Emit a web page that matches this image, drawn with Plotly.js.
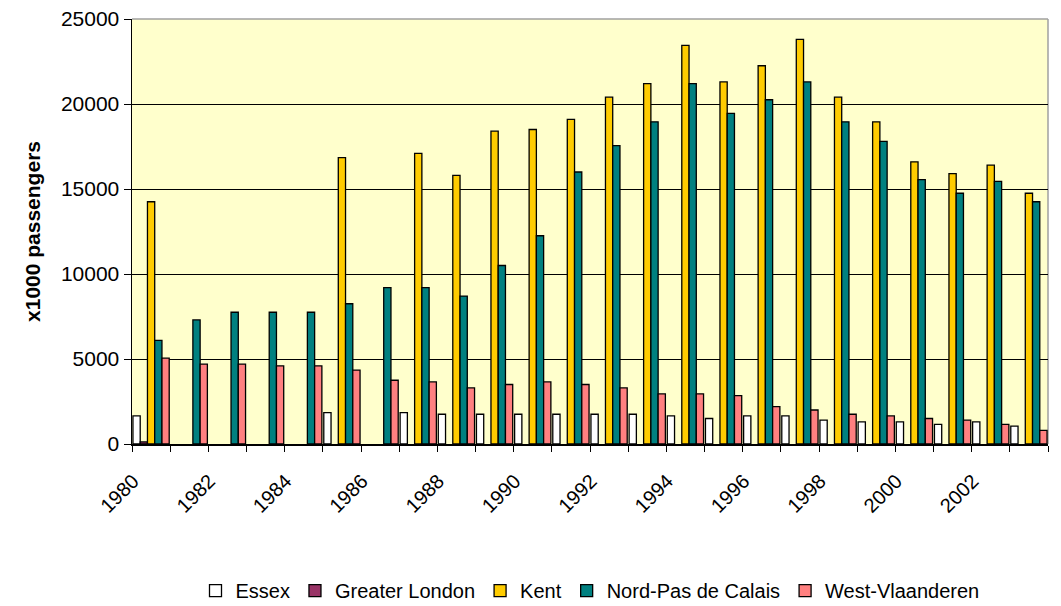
<!DOCTYPE html>
<html>
<head>
<meta charset="utf-8">
<script src="https://cdn.plot.ly/plotly-3.0.1.min.js"></script>
<style>
  html, body { margin: 0; padding: 0; background: #ffffff; }
  #chart { width: 1061px; height: 606px; }
</style>
</head>
<body>
<div id="chart"></div>
<script>
const years = ["1980","1981","1982","1983","1984","1985","1986","1987","1988","1989","1990","1991",
               "1992","1993","1994","1995","1996","1997","1998","1999","2000","2001","2002","2003"];
const tickLabels = ["1980","","1982","","1984","","1986","","1988","","1990","",
                    "1992","","1994","","1996","","1998","","2000","","2002",""];

const essex = [1650, null, null, null, null, 1850, null, 1850, 1750, 1750, 1750, 1750,
               1750, 1750, 1650, 1500, 1650, 1650, 1400, 1300, 1300, 1150, 1300, 1050];
const greaterLondon = [120, null, null, null, null, null, null, null, null, null, null, null,
                       null, null, null, null, null, null, null, null, null, null, null, null];
const kent = [14250, null, null, null, null, 16850, null, 17100, 15800, 18400, 18500, 19100,
              20400, 21200, 23450, 21300, 22250, 23800, 20400, 18950, 16600, 15900, 16400, 14750];
const nordPasDeCalais = [6100, 7300, 7750, 7750, 7750, 8250, 9200, 9200, 8700, 10500, 12250, 16000,
                         17550, 18950, 21200, 19450, 20250, 21300, 18950, 17800, 15550, 14750, 15450, 14250];
const westVlaanderen = [5050, 4700, 4700, 4600, 4600, 4350, 3750, 3650, 3300, 3500, 3650, 3500,
                        3300, 2950, 2950, 2850, 2200, 2000, 1750, 1650, 1500, 1400, 1150, 800];

const seriesNames = ["Essex", "Greater London", "Kent", "Nord-Pas de Calais", "West-Vlaanderen"];
const seriesValues = [essex, greaterLondon, kent, nordPasDeCalais, westVlaanderen];
const seriesColors = ["#FFFFFF", "#993366", "#FFCC00", "#008080", "#FF8080"];

const traces = seriesNames.map((name, i) => ({
  type: "bar",
  name: name,
  x: years,
  y: seriesValues[i],
  marker: { color: seriesColors[i], line: { color: "#000000", width: 1.3 } },
  hoverinfo: "x+y+name"
}));

const font = "Liberation Sans, Arial, sans-serif";

const layout = {
  width: 1061,
  height: 606,
  margin: { l: 132, r: 13, t: 19, b: 162, autoexpand: false },
  paper_bgcolor: "#FFFFFF",
  plot_bgcolor: "#FFFFCC",
  barmode: "group",
  bargap: 0.05,
  bargroupgap: 0,
  font: { family: font, size: 21, color: "#000000" },
  showlegend: true,
  legend: {
    orientation: "h",
    x: 0.5, xanchor: "center",
    y: -0.345, yanchor: "middle",
    font: { family: font, size: 20, color: "#000000" },
    bgcolor: "rgba(0,0,0,0)",
    itemwidth: 30,
    tracegroupgap: 0
  },
  xaxis: {
    type: "category",
    automargin: false,
    tickmode: "array",
    tickvals: years,
    ticktext: tickLabels,
    tickson: "boundaries",
    ticks: "outside",
    ticklen: 6,
    tickcolor: "#000000",
    tickwidth: 1,
    tickangle: -45,
    ticklabelshift: -18,
    ticklabelstandoff: 16,
    tickfont: { family: font, size: 20, color: "#000000" },
    showgrid: false,
    showline: true,
    linecolor: "#000000",
    linewidth: 1.5,
    zeroline: false,
    range: [-0.5, 23.5],
    fixedrange: true
  },
  yaxis: {
    automargin: false,
    range: [0, 25000],
    tickmode: "linear",
    tick0: 0,
    dtick: 5000,
    tickformat: "d",
    ticks: "outside",
    ticklen: 7,
    tickcolor: "#000000",
    tickfont: { family: font, size: 21, color: "#000000" },
    showgrid: true,
    gridcolor: "#000000",
    gridwidth: 1,
    showline: true,
    linecolor: "#000000",
    linewidth: 1.5,
    zeroline: false,
    title: { text: "<b>x1000 passengers</b>", font: { family: font, size: 21, color: "#000000" }, standoff: 14 },
    fixedrange: true
  },
  shapes: [
    { type: "line", xref: "paper", yref: "paper", x0: 0, x1: 1, y0: 1, y1: 1,
      line: { color: "#A0A0A0", width: 1.5 }, layer: "above" },
    { type: "line", xref: "paper", yref: "paper", x0: 1, x1: 1, y0: 0, y1: 1,
      line: { color: "#A0A0A0", width: 1.5 }, layer: "below" }
  ]
};

Plotly.newPlot("chart", traces, layout, { displayModeBar: false, staticPlot: true });
</script>
</body>
</html>
